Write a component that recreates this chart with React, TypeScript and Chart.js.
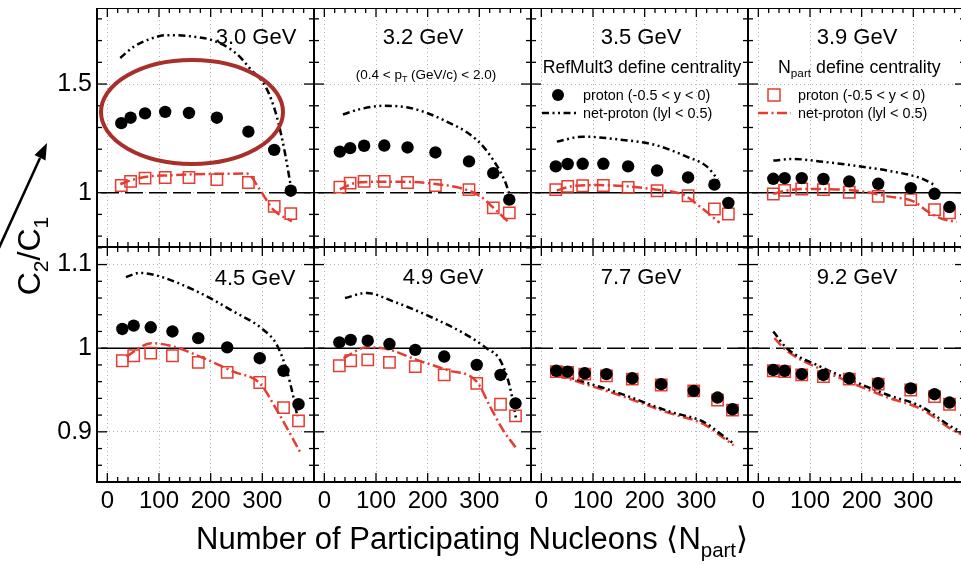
import React, { useEffect, useRef } from 'react';
import { Chart, registerables } from 'chart.js';

Chart.register(...registerables);

const FONT = "'Liberation Sans', Arial, Helvetica, sans-serif";
const RED = '#e63c32';
const RING = '#a9302a';

// ---------- layout of the 4 x 2 grid ----------
const COL_LEFT = [97, 314, 531, 748];
const PANEL_W = 217;
const ROW_TOP = [8, 247];
const ROW_H = [239, 235];
const YLAB_W = 60;
const XLAB_H = 40;

// ---------- axes ----------
const X_MIN = -20;
const X_MAX = 400;
const X_TICK_LABELS = [0, 100, 200, 300];
const X_MINOR_STEP = 20;
const X_MAJOR_STEP = 100;

const Y_TOP_MIN = 0.75;
const Y_TOP_MAX = 1.85;
const Y_TOP_LABELS = [1, 1.5];
const Y_TOP_MINOR = 0.1;

const Y_BOT_MIN = 0.84;
const Y_BOT_MAX = 1.121;
const Y_BOT_LABELS = [0.9, 1, 1.1];
const Y_BOT_MINOR = 0.02;

// ---------- data: <Npart> per centrality class ----------
const NPART_30 = [27, 45, 73, 112, 158, 212, 273, 323, 355];
const NPART_32 = [30, 50, 77, 116, 161, 215, 280, 327, 358];
const NPART_35 = [28, 51, 80, 120, 168, 224, 284, 335, 362];
const NPART_HI = [29, 51, 84, 126, 176, 232, 295, 341, 370];

// proton C2/C1, RefMult3 centrality (filled circles) / Npart centrality (open squares)
const P_REF_30 = [1.32, 1.345, 1.365, 1.372, 1.367, 1.345, 1.281, 1.197, 1.009];
const P_NP_30 = [1.033, 1.052, 1.067, 1.07, 1.07, 1.06, 1.047, 0.937, 0.904];
const P_REF_32 = [1.189, 1.205, 1.216, 1.217, 1.208, 1.185, 1.144, 1.09, 0.968];
const P_NP_32 = [1.026, 1.044, 1.052, 1.052, 1.047, 1.033, 1.014, 0.93, 0.907];
const P_REF_35 = [1.121, 1.132, 1.133, 1.133, 1.121, 1.102, 1.07, 1.037, 0.953];
const P_NP_35 = [1.014, 1.029, 1.032, 1.033, 1.024, 1.009, 0.986, 0.925, 0.902];
const P_REF_39 = [1.064, 1.067, 1.067, 1.063, 1.052, 1.041, 1.021, 0.995, 0.934];
const P_NP_39 = [0.994, 1.011, 1.017, 1.014, 1.002, 0.983, 0.968, 0.922, 0.907];
const P_REF_45 = [1.023, 1.027, 1.025, 1.02, 1.012, 1.001, 0.988, 0.973, 0.933];
const P_NP_45 = [0.985, 0.991, 0.994, 0.991, 0.983, 0.971, 0.959, 0.929, 0.913];
const P_REF_49 = [1.007, 1.01, 1.009, 1.005, 0.998, 0.99, 0.98, 0.968, 0.934];
const P_NP_49 = [0.979, 0.985, 0.986, 0.983, 0.978, 0.968, 0.958, 0.933, 0.919];
const P_REF_77 = [0.973, 0.972, 0.97, 0.969, 0.964, 0.957, 0.949, 0.941, 0.927];
const P_NP_77 = [0.972, 0.971, 0.969, 0.967, 0.963, 0.956, 0.949, 0.938, 0.926];
const P_REF_92 = [0.974, 0.973, 0.969, 0.968, 0.964, 0.958, 0.952, 0.945, 0.935];
const P_NP_92 = [0.973, 0.972, 0.968, 0.966, 0.963, 0.957, 0.95, 0.942, 0.933];

// net-proton curves (|y| < 0.5): RefMult3 (black dash-dot-dot) / Npart (red dash-dot)
const NET_REF_30_X = [25, 50, 80, 115, 160, 205, 250, 276, 308, 328, 344, 355];
const NET_REF_30_Y = [1.62, 1.67, 1.705, 1.725, 1.72, 1.7, 1.64, 1.572, 1.48, 1.35, 1.18, 1.03];
const NET_NP_30_X = [25, 50, 80, 120, 170, 220, 270, 295, 321, 357];
const NET_NP_30_Y = [1.04, 1.06, 1.075, 1.08, 1.085, 1.087, 1.088, 1.015, 0.922, 0.868];

const NET_REF_32_X = [36, 70, 114, 166, 230, 295, 327, 350, 360];
const NET_REF_32_Y = [1.36, 1.385, 1.4, 1.39, 1.335, 1.243, 1.15, 1.05, 0.98];
const NET_NP_32_X = [30, 60, 100, 160, 215, 262, 301, 330, 356];
const NET_NP_32_Y = [1.015, 1.045, 1.05, 1.05, 1.04, 1.022, 0.985, 0.924, 0.866];

const NET_REF_35_X = [30, 80, 150, 220, 280, 320, 342];
const NET_REF_35_Y = [1.235, 1.258, 1.245, 1.22, 1.167, 1.121, 1.06];
const NET_NP_35_X = [30, 60, 110, 160, 220, 275, 310, 345];
const NET_NP_35_Y = [1.01, 1.03, 1.035, 1.03, 1.015, 0.99, 0.93, 0.862];

const NET_REF_39_X = [29, 68, 119, 184, 249, 314, 340];
const NET_REF_39_Y = [1.148, 1.155, 1.144, 1.125, 1.102, 1.067, 1.037];
const NET_NP_39_X = [29, 60, 100, 150, 200, 250, 300, 330, 355, 384];
const NET_NP_39_Y = [0.995, 1.012, 1.017, 1.015, 1.006, 0.983, 0.96, 0.91, 0.88, 0.865];

const NET_REF_45_X = [36, 63, 95, 173, 244, 302, 328, 347, 360, 368];
const NET_REF_45_Y = [1.085, 1.09, 1.087, 1.068, 1.044, 1.022, 1.004, 0.974, 0.942, 0.918];
const NET_NP_45_X = [37, 85, 128, 179, 244, 295, 328, 373];
const NET_NP_45_Y = [0.99, 1.006, 1.002, 0.99, 0.972, 0.958, 0.926, 0.876];

const NET_REF_49_X = [40, 82, 133, 211, 275, 314, 340, 359, 371];
const NET_REF_49_Y = [1.06, 1.066, 1.056, 1.036, 1.016, 1.0, 0.986, 0.954, 0.916];
const NET_NP_49_X = [37, 82, 121, 179, 237, 295, 321, 346, 372];
const NET_NP_49_Y = [0.988, 1.001, 0.999, 0.986, 0.974, 0.96, 0.93, 0.902, 0.88];

const NET_REF_77_X = [30, 81, 152, 249, 314, 346, 372];
const NET_REF_77_Y = [0.97, 0.96, 0.946, 0.924, 0.912, 0.898, 0.886];
const NET_NP_77_X = [30, 80, 150, 250, 315, 345, 372];
const NET_NP_77_Y = [0.968, 0.958, 0.944, 0.922, 0.909, 0.896, 0.884];

const NET_REF_92_X = [29, 55, 120, 186, 251, 316, 374, 400];
const NET_REF_92_Y = [1.02, 1.0, 0.978, 0.96, 0.944, 0.93, 0.906, 0.898];
const NET_NP_92_X = [31, 55, 120, 186, 251, 316, 374, 400];
const NET_NP_92_Y = [1.012, 0.997, 0.975, 0.957, 0.941, 0.927, 0.903, 0.895];

const ENERGY_LABELS = ['3.0 GeV', '3.2 GeV', '3.5 GeV', '3.9 GeV', '4.5 GeV', '4.9 GeV', '7.7 GeV', '9.2 GeV'];

type Pt = { x: number; y: number };
const pts = (xs: number[], ys: number[]): Pt[] => xs.map((x, i) => ({ x, y: ys[i] }));

interface PanelDef {
  col: number;
  row: number;
  npart: number[];
  pRef: number[];
  pNp: number[];
  refX: number[];
  refY: number[];
  npX: number[];
  npY: number[];
  dashedRef: boolean;
}

const PANELS: PanelDef[] = [
  { col: 0, row: 0, npart: NPART_30, pRef: P_REF_30, pNp: P_NP_30, refX: NET_REF_30_X, refY: NET_REF_30_Y, npX: NET_NP_30_X, npY: NET_NP_30_Y, dashedRef: true },
  { col: 1, row: 0, npart: NPART_32, pRef: P_REF_32, pNp: P_NP_32, refX: NET_REF_32_X, refY: NET_REF_32_Y, npX: NET_NP_32_X, npY: NET_NP_32_Y, dashedRef: true },
  { col: 2, row: 0, npart: NPART_35, pRef: P_REF_35, pNp: P_NP_35, refX: NET_REF_35_X, refY: NET_REF_35_Y, npX: NET_NP_35_X, npY: NET_NP_35_Y, dashedRef: false },
  { col: 3, row: 0, npart: NPART_HI, pRef: P_REF_39, pNp: P_NP_39, refX: NET_REF_39_X, refY: NET_REF_39_Y, npX: NET_NP_39_X, npY: NET_NP_39_Y, dashedRef: false },
  { col: 0, row: 1, npart: NPART_HI, pRef: P_REF_45, pNp: P_NP_45, refX: NET_REF_45_X, refY: NET_REF_45_Y, npX: NET_NP_45_X, npY: NET_NP_45_Y, dashedRef: false },
  { col: 1, row: 1, npart: NPART_HI, pRef: P_REF_49, pNp: P_NP_49, refX: NET_REF_49_X, refY: NET_REF_49_Y, npX: NET_NP_49_X, npY: NET_NP_49_Y, dashedRef: false },
  { col: 2, row: 1, npart: NPART_HI, pRef: P_REF_77, pNp: P_NP_77, refX: NET_REF_77_X, refY: NET_REF_77_Y, npX: NET_NP_77_X, npY: NET_NP_77_Y, dashedRef: true },
  { col: 3, row: 1, npart: NPART_HI, pRef: P_REF_92, pNp: P_NP_92, refX: NET_REF_92_X, refY: NET_REF_92_Y, npX: NET_NP_92_X, npY: NET_NP_92_Y, dashedRef: true },
];

const DASH_DOT_DOT = [7, 3.5, 2, 3.5, 2, 3.5];
const DASH_DOT = [10, 3.5, 2, 3.5];

const canvasBox = (p: PanelDef) => {
  const left = COL_LEFT[p.col] - (p.col === 0 ? YLAB_W : 0);
  const width = PANEL_W + (p.col === 0 ? YLAB_W : 0);
  const top = ROW_TOP[p.row];
  const height = ROW_H[p.row] + (p.row === 1 ? XLAB_H : 0);
  return { left, top, width, height };
};

const near = (a: number, b: number) => Math.abs(a - b) < 1e-6;

// frame, inward ticks (major + minor) and the reference line at 1
const decorPlugin = {
  id: 'decor',
  beforeDatasetsDraw(chart: any, _args: any, opts: any) {
    const { ctx, chartArea: a } = chart;
    const py = chart.scales.y.getPixelForValue(1);
    ctx.save();
    ctx.beginPath();
    ctx.rect(a.left, a.top, a.right - a.left, a.bottom - a.top);
    ctx.clip();
    ctx.strokeStyle = '#000';
    ctx.lineWidth = 1.6;
    ctx.setLineDash(opts.dashedRef ? [18, 6] : []);
    ctx.beginPath();
    ctx.moveTo(a.left + 4, py);
    ctx.lineTo(a.right, py);
    ctx.stroke();
    ctx.restore();
  },
  afterDatasetsDraw(chart: any, _args: any, opts: any) {
    const { ctx, chartArea: a } = chart;
    const { x, y } = chart.scales;
    const seg = (x1: number, y1: number, x2: number, y2: number) => {
      ctx.beginPath();
      ctx.moveTo(x1, y1);
      ctx.lineTo(x2, y2);
      ctx.stroke();
    };
    ctx.save();
    ctx.strokeStyle = '#000';
    ctx.lineWidth = 1.3;
    ctx.setLineDash([]);
    for (let k = Math.ceil(X_MIN / X_MINOR_STEP); k * X_MINOR_STEP <= X_MAX; k++) {
      const v = k * X_MINOR_STEP;
      const px = x.getPixelForValue(v);
      const len = v % X_MAJOR_STEP === 0 ? 9 : 5;
      seg(px, a.bottom, px, a.bottom - len);
      seg(px, a.top, px, a.top + len);
    }
    const step = opts.yMinor;
    const majors: number[] = opts.yMajors;
    for (let k = Math.ceil(y.min / step - 1e-6); k * step <= y.max + 1e-6; k++) {
      const v = k * step;
      const py = y.getPixelForValue(v);
      const len = majors.some((m) => near(m, v)) ? 10 : 5;
      seg(a.left, py, a.left + len, py);
      seg(a.right, py, a.right - len, py);
    }
    ctx.lineWidth = 2;
    ctx.strokeRect(a.left, a.top, a.right - a.left, a.bottom - a.top);
    ctx.restore();
  },
};

function makeChart(canvas: HTMLCanvasElement, p: PanelDef) {
  const top = p.row === 0;
  const yLabels = top ? Y_TOP_LABELS : Y_BOT_LABELS;
  return new Chart(canvas, {
    type: 'scatter',
    data: {
      datasets: [
        {
          label: 'proton (-0.5 < y < 0), RefMult3',
          data: pts(p.npart, p.pRef),
          pointStyle: 'circle',
          pointRadius: 6.2,
          backgroundColor: '#000',
          borderColor: '#000',
          borderWidth: 0,
          order: 0,
        },
        {
          label: 'proton (-0.5 < y < 0), Npart',
          data: pts(p.npart, p.pNp),
          pointStyle: 'rect',
          pointRadius: 8,
          backgroundColor: 'rgba(0,0,0,0)',
          borderColor: RED,
          borderWidth: 1.5,
          order: 1,
        },
        {
          label: 'net-proton (|y| < 0.5), RefMult3',
          data: pts(p.refX, p.refY),
          showLine: true,
          pointRadius: 0,
          borderColor: '#000',
          borderWidth: 2.5,
          borderDash: DASH_DOT_DOT,
          cubicInterpolationMode: 'monotone',
          order: 2,
        },
        {
          label: 'net-proton (|y| < 0.5), Npart',
          data: pts(p.npX, p.npY),
          showLine: true,
          pointRadius: 0,
          borderColor: RED,
          borderWidth: 2.5,
          borderDash: DASH_DOT,
          cubicInterpolationMode: 'monotone',
          order: 3,
        },
      ] as any,
    },
    options: {
      animation: false,
      responsive: false,
      maintainAspectRatio: false,
      events: [],
      layout: { padding: 0, autoPadding: false } as any,
      plugins: {
        legend: { display: false },
        tooltip: { enabled: false },
        decor: { dashedRef: p.dashedRef, yMinor: top ? Y_TOP_MINOR : Y_BOT_MINOR, yMajors: yLabels },
      } as any,
      scales: {
        x: {
          type: 'linear',
          min: X_MIN,
          max: X_MAX,
          afterBuildTicks: (s: any) => {
            s.ticks = X_TICK_LABELS.map((v) => ({ value: v }));
          },
          afterFit: (s: any) => {
            s.height = p.row === 1 ? XLAB_H : 0;
            s.paddingLeft = 0;
            s.paddingRight = 0;
            s.paddingTop = 0;
            s.paddingBottom = 0;
          },
          ticks: {
            display: p.row === 1,
            autoSkip: false,
            maxRotation: 0,
            padding: 5,
            color: '#000',
            font: { family: FONT, size: 24 },
            callback: (v: any) => String(v),
          },
          grid: { drawTicks: false, color: '#b4b4b4', lineWidth: 1 },
          border: { display: false, dash: [1, 3] },
        },
        y: {
          type: 'linear',
          min: top ? Y_TOP_MIN : Y_BOT_MIN,
          max: top ? Y_TOP_MAX : Y_BOT_MAX,
          afterBuildTicks: (s: any) => {
            s.ticks = yLabels.map((v) => ({ value: v }));
          },
          afterFit: (s: any) => {
            s.width = p.col === 0 ? YLAB_W : 0;
            s.paddingLeft = 0;
            s.paddingRight = 0;
            s.paddingTop = 0;
            s.paddingBottom = 0;
          },
          ticks: {
            display: p.col === 0,
            autoSkip: false,
            padding: 5,
            color: '#000',
            font: { family: FONT, size: 25 },
            callback: (v: any) => (near(Number(v), 1) ? '1' : Number(v).toFixed(1)),
          },
          grid: { drawTicks: false, color: '#b4b4b4', lineWidth: 1 },
          border: { display: false, dash: [1, 3] },
        },
      } as any,
    },
    plugins: [decorPlugin as any],
  });
}

const Sub = ({ children }: { children: React.ReactNode }) => (
  <span style={{ fontSize: '0.66em', position: 'relative', top: '0.38em' }}>{children}</span>
);

const Txt = ({
  x,
  y,
  size,
  align = 'center',
  rotate = false,
  children,
}: {
  x: number;
  y: number;
  size: number;
  align?: 'center' | 'left';
  rotate?: boolean;
  children: React.ReactNode;
}) => (
  <div
    style={{
      position: 'absolute',
      left: x,
      top: y,
      transform:
        (align === 'center' ? 'translate(-50%,-50%)' : 'translate(0,-50%)') + (rotate ? ' rotate(-90deg)' : ''),
      fontFamily: FONT,
      fontSize: size,
      lineHeight: 1,
      whiteSpace: 'nowrap',
      color: '#000',
    }}
  >
    {children}
  </div>
);

const LABEL_POS: [number, number][] = [
  [256, 37],
  [423, 37],
  [641, 37],
  [857, 37],
  [255, 278],
  [443, 277],
  [641, 277],
  [857, 277],
];

export default function App() {
  const refs = useRef<(HTMLCanvasElement | null)[]>([]);

  useEffect(() => {
    const charts = PANELS.map((p, i) => makeChart(refs.current[i] as HTMLCanvasElement, p));
    return () => charts.forEach((c) => c.destroy());
  }, []);

  return (
    <div
      style={{
        position: 'absolute',
        left: 0,
        top: 0,
        width: 961,
        height: 564,
        overflow: 'hidden',
        background: '#fff',
      }}
    >
      {PANELS.map((p, i) => {
        const b = canvasBox(p);
        return (
          <div key={i} style={{ position: 'absolute', left: b.left, top: b.top, width: b.width, height: b.height }}>
            <canvas
              ref={(el) => {
                refs.current[i] = el;
              }}
              width={b.width}
              height={b.height}
              style={{ width: b.width, height: b.height, display: 'block' }}
            />
          </div>
        );
      })}

      {ENERGY_LABELS.map((t, i) => (
        <Txt key={t} x={LABEL_POS[i][0]} y={LABEL_POS[i][1]} size={22}>
          {t}
        </Txt>
      ))}

      <Txt x={426} y={75} size={13.5}>
        (0.4 &lt; p<Sub>T</Sub> (GeV/c) &lt; 2.0)
      </Txt>

      <Txt x={642} y={68} size={17.6}>
        RefMult3 define centrality
      </Txt>
      <Txt x={583} y={95} size={14.4} align="left">
        proton (-0.5 &lt; y &lt; 0)
      </Txt>
      <Txt x={583} y={113} size={14.4} align="left">
        net-proton (lyl &lt; 0.5)
      </Txt>

      <Txt x={778} y={68} size={17.8} align="left">
        N<Sub>part</Sub> define centrality
      </Txt>
      <Txt x={798} y={95} size={14.4} align="left">
        proton (-0.5 &lt; y &lt; 0)
      </Txt>
      <Txt x={798} y={113} size={14.4} align="left">
        net-proton (lyl &lt; 0.5)
      </Txt>

      <Txt x={472} y={538} size={31}>
        Number of Participating Nucleons ⟨N<Sub>part</Sub>⟩
      </Txt>
      <Txt x={29} y={256} size={32} rotate>
        C<Sub>2</Sub>/C<Sub>1</Sub>
      </Txt>

      <svg
        width={961}
        height={564}
        style={{ position: 'absolute', left: 0, top: 0, pointerEvents: 'none' }}
      >
        {/* legend samples */}
        <circle cx={558} cy={95} r={6} fill="#000" />
        <line x1={542} y1={113} x2={576} y2={113} stroke="#000" strokeWidth={2.5} strokeDasharray={DASH_DOT_DOT.join(' ')} />
        <rect x={768} y={89} width={12} height={12} fill="none" stroke={RED} strokeWidth={1.5} />
        <line x1={758} y1={113} x2={791} y2={113} stroke={RED} strokeWidth={2.5} strokeDasharray={DASH_DOT.join(' ')} />
        {/* highlight ring and arrow */}
        <ellipse cx={192} cy={112} rx={91} ry={52} fill="none" stroke={RING} strokeWidth={4} />
        <line x1={-2} y1={250} x2={40} y2={158} stroke="#000" strokeWidth={2.5} />
        <polygon points="47,143 45.5,160.5 34.5,155" fill="#000" />
      </svg>
    </div>
  );
}
